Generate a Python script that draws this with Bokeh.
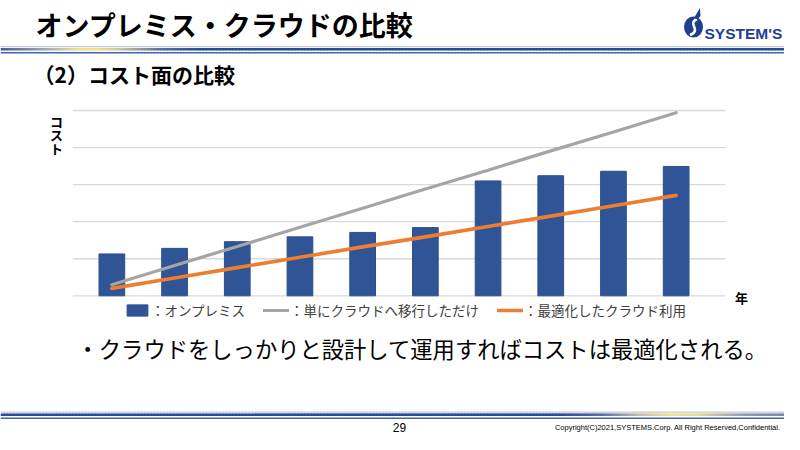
import numpy as np
from bokeh.plotting import figure
from bokeh.models import Range1d, Label, Legend, LegendItem
from bokeh.embed import file_html
from bokeh.resources import INLINE

# ---------------- data ----------------
periods = [1, 2, 3, 4, 5, 6, 7, 8, 9, 10]
onprem = [11.3, 12.8, 14.6, 15.9, 17.1, 18.4, 31.0, 32.4, 33.6, 34.9]
cloud_lift = [3.0, 8.2, 13.3, 18.5, 23.6, 28.8, 33.9, 39.1, 44.2, 49.4]
cloud_opt = [2.0, 4.8, 7.6, 10.4, 13.2, 15.9, 18.7, 21.5, 24.3, 27.1]
y_ticks = [0, 10, 20, 30, 40, 50]
series_names = ["：オンプレミス", "：単にクラウドへ移行しただけ", "：最適化したクラウド利用"]

title_text = "オンプレミス・クラウドの比較"
subtitle_text = "（2）コスト面の比較"
y_label_chars = ["コ", "ス", "ト"]
x_label = "年"
note_text = "・クラウドをしっかりと設計して運用すればコストは最適化される。"
page_no = "29"
copyright_text = "Copyright(C)2021,SYSTEMS.Corp.  All Right Reserved,Confidential."
logo_text = "SYSTEM'S"

# ---------------- layout ----------------
W, H = 784, 434
CL, CR, CT, CB = 72.3, 725.0, 110.0, 295.3   # chart plot area in pixels
cat_lo, cat_hi = periods[0] - 0.623, periods[-1] + 0.787
val_lo, val_hi = y_ticks[0], y_ticks[-1]
ux = (CR - CL) / (cat_hi - cat_lo)
uy = (CB - CT) / (val_hi - val_lo)

JP = "Noto Sans CJK JP"
BLUE = "#2F5597"
GRAY = "#A5A5A5"
ORANGE = "#ED7D31"
LOGO = "#1E3F8F"

p = figure(width=W, height=H, x_range=Range1d(0, W), y_range=Range1d(H, 0),
           output_backend="svg", toolbar_location=None, min_border=0,
           x_axis_location=None, y_axis_location=None)
p.outline_line_color = None
p.background_fill_color = "white"
p.border_fill_color = "white"
p.grid.visible = False
p.extra_x_ranges = {"cx": Range1d(cat_lo - CL / ux, cat_hi + (W - CR) / ux)}
p.extra_y_ranges = {"cy": Range1d(val_lo - (H - CB) / uy, val_hi + CT / uy)}


# ---------------- decorative header / footer rules ----------------
def grad_line(y, stops, width):
    xs = np.linspace(0, W, 241)
    mids = (xs[:-1] + xs[1:]) / 2
    sx = [s[0] for s in stops]
    cols = []
    for m in mids:
        r = np.interp(m, sx, [s[1][0] for s in stops])
        g = np.interp(m, sx, [s[1][1] for s in stops])
        b = np.interp(m, sx, [s[1][2] for s in stops])
        cols.append("#%02x%02x%02x" % (int(r), int(g), int(b)))
    p.segment(x0=xs[:-1], x1=xs[1:] + 0.8, y0=[y] * len(mids), y1=[y] * len(mids),
              line_color=cols, line_width=width)


head_stops = [(0, (70, 95, 150)), (40, (150, 160, 175)), (75, (235, 220, 150)), (95, (245, 225, 135)),
              (120, (200, 195, 165)), (160, (90, 110, 160)), (200, (42, 76, 150)), (800, (42, 76, 150))]
foot_stops = [(0, (42, 76, 150)), (560, (42, 76, 150)), (600, (90, 110, 160)), (640, (200, 195, 165)),
              (670, (245, 225, 135)), (695, (235, 220, 150)), (740, (150, 160, 175)), (800, (110, 125, 165))]

p.segment(x0=[0], x1=[W], y0=[46.2], y1=[46.2], line_color="#B4C0D6", line_width=1)
grad_line(48.8, head_stops, 2.6)
p.segment(x0=[0], x1=[W], y0=[52.2], y1=[52.2], line_color="#3A66B4", line_width=1.4)

p.segment(x0=[0], x1=[W], y0=[411.6], y1=[411.6], line_color="#B4C0D6", line_width=1)
grad_line(414.2, foot_stops, 2.6)
p.segment(x0=[0], x1=[W], y0=[417.8], y1=[417.8], line_color="#3A66B4", line_width=1.4)

# ---------------- logo ----------------
p.ellipse(x=[693], y=[26.5], width=[19], height=[21], fill_color=LOGO, line_color=None)
p.bezier(x0=[689.5], y0=[34.5], x1=[696.5], y1=[18.5], cx0=[702], cy0=[29.5], cx1=[686], cy1=[23.5],
         line_color="white", line_width=2.6)
p.patch(x=[693.5, 699.5, 700.0, 697.0], y=[17.5, 7.5, 15.5, 19.0], fill_color=LOGO, line_color=None)
p.add_layout(Label(x=704, y=33, text=logo_text, text_font="Liberation Sans",
                   text_font_style="bold", text_font_size="15.5px", text_color=LOGO,
                   text_baseline="alphabetic", text_align="left"))

# ---------------- titles ----------------
p.add_layout(Label(x=35, y=24, text=title_text, text_font=JP, text_font_style="bold",
                   text_font_size="27px", text_color="#000000", text_baseline="middle"))
p.add_layout(Label(x=33, y=73.5, text=subtitle_text, text_font=JP, text_font_style="bold",
                   text_font_size="21px", text_color="#000000", text_baseline="middle"))

# ---------------- chart ----------------
n = len(y_ticks)
p.segment(x0=[cat_lo] * n, x1=[cat_hi] * n, y0=y_ticks, y1=y_ticks,
          line_color="#D9D9D9", line_width=1.3, x_range_name="cx", y_range_name="cy")
bars = p.vbar(x=periods, top=onprem, bottom=0, width=0.41, fill_color=BLUE, line_color="#2A4F93",
              line_width=1, x_range_name="cx", y_range_name="cy")
l_lift = p.line(periods, cloud_lift, line_color=GRAY, line_width=3.2, line_cap="round",
                x_range_name="cx", y_range_name="cy")
l_opt = p.line(periods, cloud_opt, line_color=ORANGE, line_width=3.6, line_cap="round",
               x_range_name="cx", y_range_name="cy")

for ch, yc in zip(y_label_chars, [120.5, 134.0, 147.5]):
    p.add_layout(Label(x=56, y=yc, text=ch, text_font=JP, text_font_style="bold",
                       text_font_size="13px", text_color="#000000", text_baseline="middle",
                       text_align="center"))
p.add_layout(Label(x=741, y=297, text=x_label, text_font=JP, text_font_style="bold",
                   text_font_size="13px", text_color="#000000", text_baseline="middle",
                   text_align="center"))

legend = Legend(items=[LegendItem(label=series_names[0], renderers=[bars]),
                       LegendItem(label=series_names[1], renderers=[l_lift]),
                       LegendItem(label=series_names[2], renderers=[l_opt])],
                orientation="horizontal", location=(124, H - 320), padding=0, margin=0,
                spacing=18, glyph_width=26, glyph_height=14, label_height=14, label_standoff=1,
                label_text_font=JP, label_text_font_size="13.5px", label_text_color="#404040",
                border_line_color=None, background_fill_alpha=0)
p.add_layout(legend)

# ---------------- note and footer ----------------
p.add_layout(Label(x=76, y=347, text=note_text, text_font=JP, text_font_size="22.3px",
                   text_color="#000000", text_baseline="middle"))
p.add_layout(Label(x=399, y=431, text=page_no, text_font="Liberation Sans", text_font_size="12px",
                   text_color="#000000", text_baseline="bottom", text_align="center"))
p.add_layout(Label(x=782, y=431, text=copyright_text, text_font="Liberation Sans",
                   text_font_size="7.5px", text_color="#000000", text_baseline="bottom",
                   text_align="right"))

open("out.html", "w").write(file_html(p, INLINE))
